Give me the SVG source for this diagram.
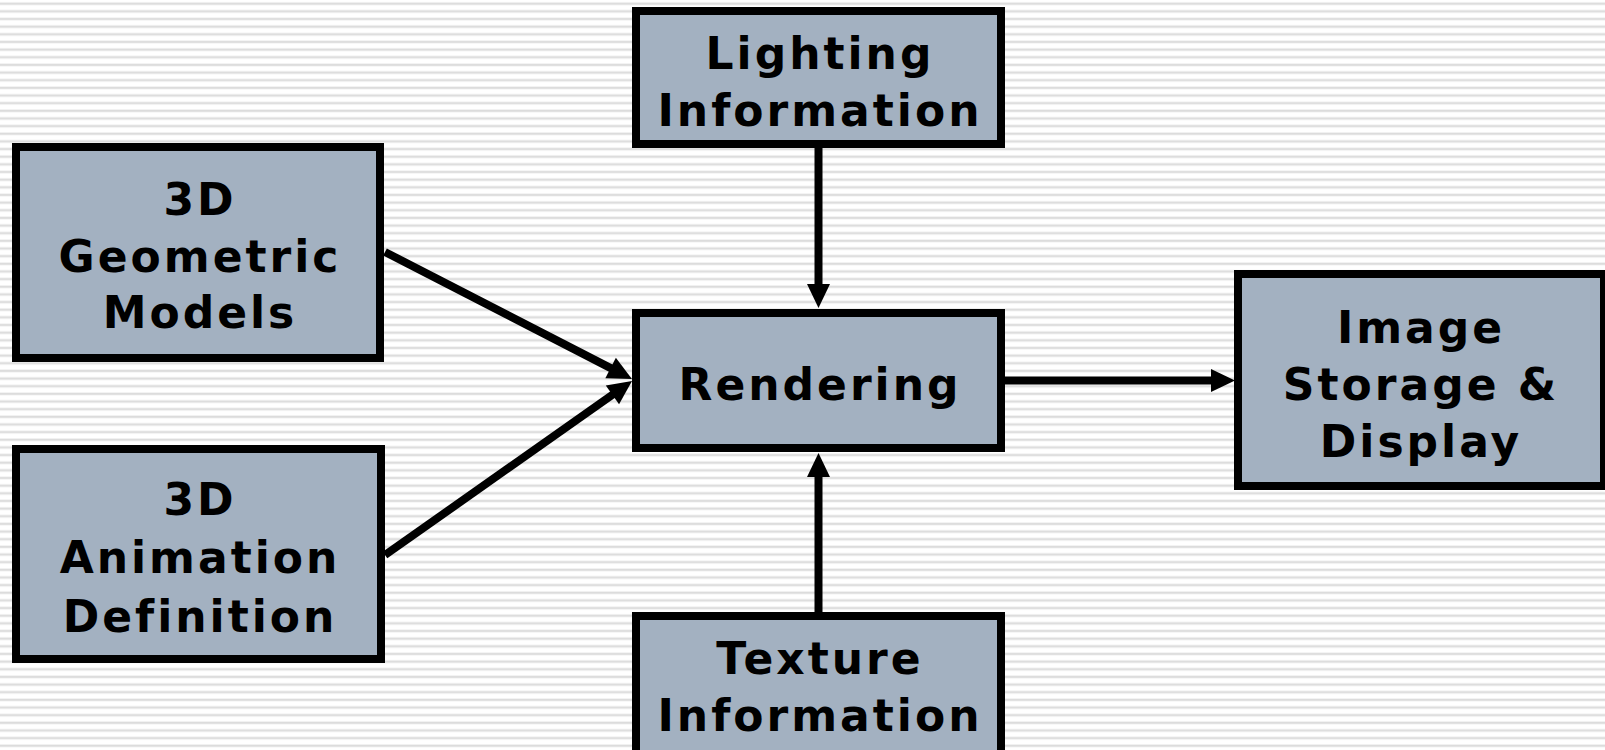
<svg xmlns="http://www.w3.org/2000/svg" width="1605" height="750" viewBox="0 0 1605 750">
  <defs>
    <pattern id="stripes" x="0" y="0" width="20" height="7.65" patternUnits="userSpaceOnUse">
      <rect x="0" y="2.2" width="20" height="3" fill="#ececec"/>
      <rect x="0" y="2.9" width="20" height="1.6" fill="#dcdcdc"/>
    </pattern>
    <marker id="arrow" markerUnits="userSpaceOnUse" markerWidth="24" markerHeight="23" refX="10" refY="11.5" orient="auto" overflow="visible">
      <path d="M0,0 L24,11.5 L0,23 Z" fill="#000"/>
    </marker>
    <style>
      .box { fill: #a3b1c1; stroke: #000; stroke-width: 8; }
      .lbl { font-family: "DejaVu Sans", Verdana, sans-serif; font-weight: bold; font-size: 44px; letter-spacing: 3px; fill: #000; text-anchor: middle; }
      .conn { stroke: #000; stroke-width: 8; fill: none; marker-end: url(#arrow); }
    </style>
  </defs>
  <rect x="0" y="0" width="1605" height="750" fill="#ffffff"/>
  <rect x="0" y="0" width="1605" height="750" fill="url(#stripes)"/>

  <g id="connectors">
    <line class="conn" x1="818.5" y1="148" x2="818.5" y2="294"/>
    <line class="conn" x1="818.5" y1="612" x2="818.5" y2="467"/>
    <line class="conn" x1="1005" y1="380.5" x2="1221" y2="380.5"/>
    <line class="conn" x1="385" y1="252" x2="619.5" y2="372.6"/>
    <line class="conn" x1="385" y1="555" x2="620.6" y2="389.1"/>
  </g>

  <g id="lighting">
    <rect class="box" x="636" y="11" width="365" height="133"/>
    <text class="lbl" x="820" y="69">Lighting</text>
    <text class="lbl" x="820" y="126">Information</text>
  </g>

  <g id="geometric">
    <rect class="box" x="16" y="147" width="364" height="211"/>
    <text class="lbl" x="200" y="215">3D</text>
    <text class="lbl" x="200" y="272">Geometric</text>
    <text class="lbl" x="200" y="328">Models</text>
  </g>

  <g id="animation">
    <rect class="box" x="16" y="449" width="365" height="210"/>
    <text class="lbl" x="200" y="515">3D</text>
    <text class="lbl" x="200" y="573">Animation</text>
    <text class="lbl" x="200" y="632">Definition</text>
  </g>

  <g id="rendering">
    <rect class="box" x="636" y="313" width="365" height="135"/>
    <text class="lbl" x="820" y="400">Rendering</text>
  </g>

  <g id="image">
    <rect class="box" x="1238" y="274" width="366" height="212"/>
    <text class="lbl" x="1421" y="343">Image</text>
    <text class="lbl" x="1421" y="400">Storage &amp;</text>
    <text class="lbl" x="1421" y="457">Display</text>
  </g>

  <g id="texture">
    <rect class="box" x="636" y="616" width="365" height="140"/>
    <text class="lbl" x="820" y="674">Texture</text>
    <text class="lbl" x="820" y="731">Information</text>
  </g>
</svg>
